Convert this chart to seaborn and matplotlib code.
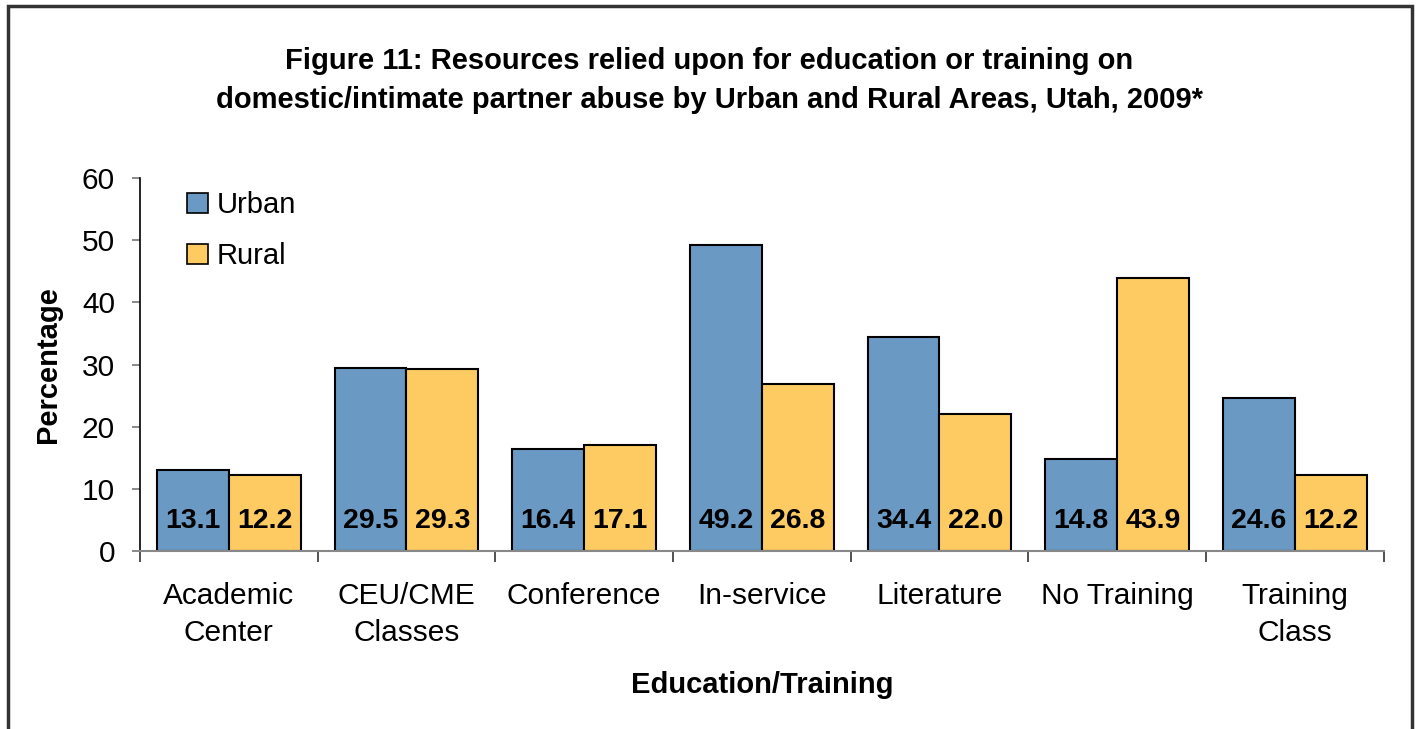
import numpy as np
import pandas as pd
import matplotlib
matplotlib.use("Agg")
import matplotlib.pyplot as plt
import matplotlib.patches as mpatches
import seaborn as sns

categories = ["Academic\nCenter", "CEU/CME\nClasses", "Conference", "In-service",
              "Literature", "No Training", "Training\nClass"]
urban = [13.1, 29.5, 16.4, 49.2, 34.4, 14.8, 24.6]
rural = [12.2, 29.3, 17.1, 26.8, 22.0, 43.9, 12.2]
areas = ["Urban", "Rural"]
colors = ["#6A9AC4", "#FDCB62"]

df = pd.DataFrame({
    "category": categories * 2,
    "area": ["Urban"] * len(categories) + ["Rural"] * len(categories),
    "value": urban + rural,
})

sns.set_theme(style="white")
plt.rcParams["font.family"] = ["Liberation Sans", "DejaVu Sans"]
plt.rcParams.update({"text.color": "black", "axes.labelcolor": "black",
                     "xtick.color": "black", "ytick.color": "black"})

fig = plt.figure(figsize=(14.18, 7.29), dpi=100)
ax = fig.add_axes([0.0987, 0.2442, 0.8771, 0.5116])

sns.barplot(
    data=df, x="category", y="value", hue="area", hue_order=areas,
    palette=colors, width=0.81, edgecolor="black", linewidth=1.5,
    saturation=1, ax=ax,
)

# value labels sit near the bottom of each bar
for cont, vals in zip(ax.containers, [urban, rural]):
    for bar, v in zip(cont, vals):
        ax.text(bar.get_x() + bar.get_width() / 2, 4.8, f"{v:.1f}",
                ha="center", va="center", fontsize=20.5, fontweight="bold",
                color="black")

ax.set_xlim(-0.5, len(categories) - 0.5)
ax.set_ylim(0, 60)
ax.set_yticks(np.arange(0, 61, 10))
ax.set_xticks(np.arange(-0.5, len(categories), 1.0), minor=True)
ax.tick_params(axis="x", which="major", length=0, pad=22, labelsize=21.5,
               labelcolor="black")
ax.tick_params(axis="x", which="minor", length=8, width=1.2, color="#333333",
               direction="out", bottom=True)
ax.tick_params(axis="y", length=6, width=1.2, color="#777777", pad=12,
               labelsize=21.5, left=True, direction="out", labelcolor="black")
for lbl in ax.get_xticklabels():
    lbl.set_linespacing(1.45)
    lbl.set_va("top")

for s in ["top", "right"]:
    ax.spines[s].set_visible(False)
ax.spines["left"].set_color("black")
ax.spines["left"].set_linewidth(1.2)
ax.spines["bottom"].set_color("#888888")
ax.spines["bottom"].set_linewidth(1.5)

ax.set_xlabel("Education/Training", fontsize=21, fontweight="bold", labelpad=17)
ax.set_ylabel("Percentage", fontsize=21, fontweight="bold", labelpad=14)

sns.move_legend(ax, "upper left", bbox_to_anchor=(0.017, 1.035), frameon=False,
                title=None, fontsize=21, handlelength=0.7, handleheight=0.7,
                handletextpad=0.3, labelspacing=0.78)
for h in ax.get_legend().legend_handles:
    h.set_edgecolor("black")
    h.set_linewidth(1.2)

fig.text(0.5, 0.889,
         "Figure 11: Resources relied upon for education or training on\n"
         "domestic/intimate partner abuse by Urban and Rural Areas, Utah, 2009*",
         ha="center", va="center", fontsize=21, fontweight="bold",
         linespacing=1.5)

border = mpatches.Rectangle((8 / 1418, -0.1), 1404 / 1418, 1.1 - 6 / 729,
                            transform=fig.transFigure, fill=False,
                            edgecolor="#333333", linewidth=2.5, clip_on=False)
fig.patches.append(border)

fig.savefig("out.png", dpi=100)
